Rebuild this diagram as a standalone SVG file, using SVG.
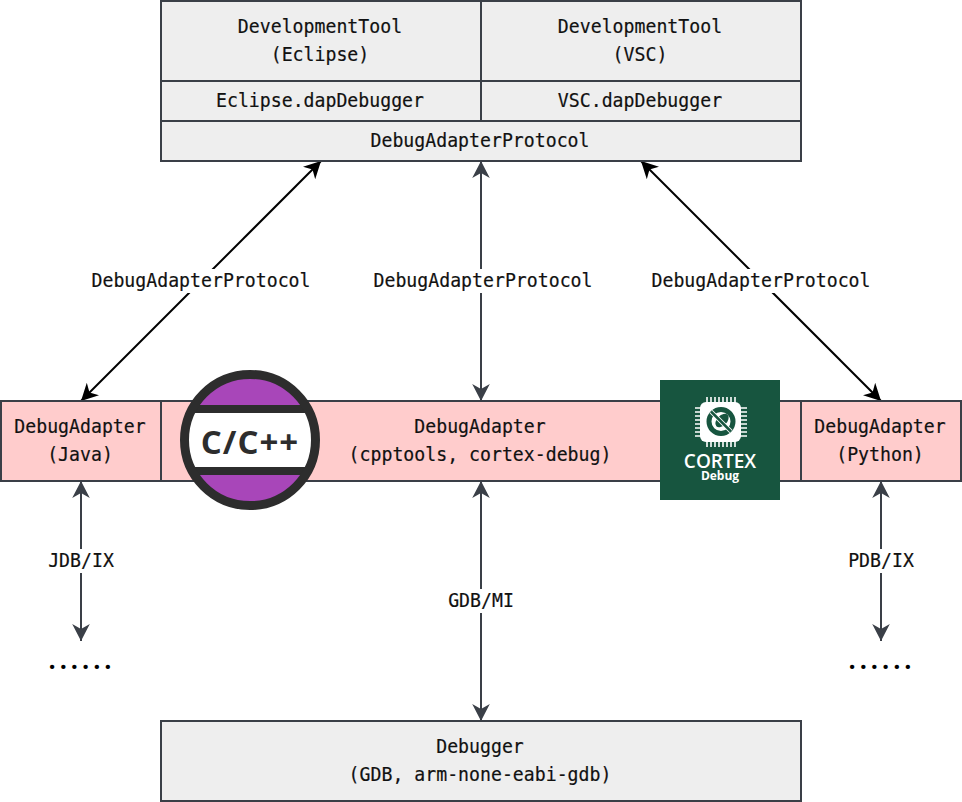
<svg xmlns="http://www.w3.org/2000/svg" width="962" height="802" viewBox="0 0 962 802">
<style>
.b{fill:#eeeeee;stroke:#3a3f47;stroke-width:2}
.p{fill:#ffcccc;stroke:#3a3f47;stroke-width:2}
text{font-family:"DejaVu Sans Mono","Liberation Mono",monospace;font-size:19.5px;fill:#111;stroke:#111;stroke-width:.2px;text-anchor:middle}
.k{stroke:#000;stroke-width:2;fill:none;marker-start:url(#ak);marker-end:url(#ak)}
.g{stroke:#3a3f47;stroke-width:2;fill:none;marker-start:url(#ag);marker-end:url(#ag)}
.lb{fill:#fff;stroke:none}
text.d{font-family:Lato,"Open Sans",sans-serif;font-weight:900;font-size:26px;fill:#000;stroke:none}
text.logo{font-family:"Open Sans","Noto Sans",sans-serif;stroke:none}
</style>
<defs>
<marker id="ak" viewBox="0 0 18 18" refX="17" refY="9" markerWidth="18" markerHeight="18" markerUnits="userSpaceOnUse" orient="auto-start-reverse"><path d="M0 .2 L17 9 L0 17.8 L5 9Z" fill="#000"/></marker>
<marker id="ag" viewBox="0 0 18 18" refX="17" refY="9" markerWidth="18" markerHeight="18" markerUnits="userSpaceOnUse" orient="auto-start-reverse"><path d="M0 .2 L17 9 L0 17.8 L5 9Z" fill="#3a3f47"/></marker>
<clipPath id="cpp"><circle cx="250" cy="440" r="68"/></clipPath>
</defs>
<g id="connectors">
<line class="k" x1="81" y1="401" x2="321" y2="161"/>
<line class="g" x1="481" y1="401" x2="481" y2="161"/>
<line class="k" x1="881" y1="401" x2="641" y2="161"/>
<line class="g" x1="81" y1="481" x2="81" y2="641"/>
<line class="g" x1="481" y1="481" x2="481" y2="721"/>
<line class="g" x1="881" y1="481" x2="881" y2="641"/>
</g>
<g id="edge-labels">
<rect class="lb" x="91" y="269" width="220" height="24"/><text x="201" y="287" textLength="219" lengthAdjust="spacingAndGlyphs">DebugAdapterProtocol</text>
<rect class="lb" x="373" y="269" width="220" height="24"/><text x="483" y="287" textLength="219" lengthAdjust="spacingAndGlyphs">DebugAdapterProtocol</text>
<rect class="lb" x="651" y="269" width="220" height="24"/><text x="761" y="287" textLength="219" lengthAdjust="spacingAndGlyphs">DebugAdapterProtocol</text>
<rect class="lb" x="48" y="549" width="66" height="24"/><text x="81" y="567" textLength="65.7" lengthAdjust="spacingAndGlyphs">JDB/IX</text>
<rect class="lb" x="848" y="549" width="66" height="24"/><text x="881" y="567" textLength="65.7" lengthAdjust="spacingAndGlyphs">PDB/IX</text>
<rect class="lb" x="448" y="589" width="66" height="24"/><text x="481" y="607" textLength="65.7" lengthAdjust="spacingAndGlyphs">GDB/MI</text>
</g>
<g id="tool-eclipse"><rect class="b" x="161" y="1" width="320" height="80"/><text x="320" y="33" textLength="164.3" lengthAdjust="spacingAndGlyphs">DevelopmentTool</text><text x="320" y="61" textLength="98.6" lengthAdjust="spacingAndGlyphs">(Eclipse)</text></g>
<g id="tool-vsc"><rect class="b" x="481" y="1" width="320" height="80"/><text x="640" y="33" textLength="164.3" lengthAdjust="spacingAndGlyphs">DevelopmentTool</text><text x="640" y="61" textLength="54.8" lengthAdjust="spacingAndGlyphs">(VSC)</text></g>
<g id="eclipse-dap"><rect class="b" x="161" y="81" width="320" height="40"/><text x="320" y="107" textLength="208" lengthAdjust="spacingAndGlyphs">Eclipse.dapDebugger</text></g>
<g id="vsc-dap"><rect class="b" x="481" y="81" width="320" height="40"/><text x="640" y="107" textLength="164.3" lengthAdjust="spacingAndGlyphs">VSC.dapDebugger</text></g>
<g id="dap"><rect class="b" x="161" y="121" width="640" height="40"/><text x="480" y="147" textLength="219" lengthAdjust="spacingAndGlyphs">DebugAdapterProtocol</text></g>
<g id="adapter-java"><rect class="p" x="1" y="401" width="160" height="80"/><text x="80" y="433" textLength="131.4" lengthAdjust="spacingAndGlyphs">DebugAdapter</text><text x="80" y="461" textLength="65.7" lengthAdjust="spacingAndGlyphs">(Java)</text></g>
<g id="adapter-cpp"><rect class="p" x="161" y="401" width="640" height="80"/><text x="480" y="433" textLength="131.4" lengthAdjust="spacingAndGlyphs">DebugAdapter</text><text x="480" y="461" textLength="262.8" lengthAdjust="spacingAndGlyphs">(cpptools, cortex-debug)</text></g>
<g id="adapter-python"><rect class="p" x="801" y="401" width="160" height="80"/><text x="880" y="433" textLength="131.4" lengthAdjust="spacingAndGlyphs">DebugAdapter</text><text x="880" y="461" textLength="87.6" lengthAdjust="spacingAndGlyphs">(Python)</text></g>
<g id="debugger"><rect class="b" x="161" y="721" width="640" height="80"/><text x="480" y="753" textLength="87.6" lengthAdjust="spacingAndGlyphs">Debugger</text><text x="480" y="781" textLength="262.8" lengthAdjust="spacingAndGlyphs">(GDB, arm-none-eabi-gdb)</text></g>
<g id="dots-left"><text class="d" x="80" y="669" textLength="62">......</text></g>
<g id="dots-right"><text class="d" x="880" y="669" textLength="62">......</text></g>
<g id="logo-cpp">
<circle cx="250" cy="440" r="66" fill="#a846b9"/>
<g clip-path="url(#cpp)"><rect x="180" y="405" width="140" height="70" fill="#2d2d2d"/><rect x="180" y="413" width="140" height="54" fill="#fff"/></g>
<circle cx="250" cy="440" r="65.5" fill="none" stroke="#2d2d2d" stroke-width="9"/>
<text class="logo" x="250" y="454" style="font-weight:700;font-size:33px;letter-spacing:1px;fill:#2d2d2d">C/C++</text>
</g>
<g id="logo-cortex">
<rect x="660" y="380" width="120" height="120" fill="#17553f"/>
<path d="M707 397V447M711 397V447M715 397V447M719 397V447M723 397V447M727 397V447M731 397V447M735 397V447M695 408H747M695 412H747M695 416H747M695 420H747M695 424H747M695 428H747M695 432H747M695 436H747" stroke="#fff" stroke-width="1.6" fill="none"/>
<rect x="700" y="402" width="41" height="40" rx="6" fill="#fff"/>
<circle cx="721" cy="421.5" r="12" fill="#fff" stroke="#17553f" stroke-width="5"/>
<ellipse cx="722" cy="420.5" rx="5" ry="8" fill="#17553f" transform="rotate(45 722 420.5)"/>
<path d="M711 411.5L731 431.5" stroke="#fff" stroke-width="4.5"/>
<path d="M711 411.5L731 431.5" stroke="#17553f" stroke-width="2.5"/>
<text class="logo" x="720" y="468" style="font-weight:600;font-size:19px;fill:#fff">CORTEX</text>
<text class="logo" x="720" y="479.5" style="font-weight:700;font-size:12px;fill:#fff">Debug</text>
</g>
</svg>
